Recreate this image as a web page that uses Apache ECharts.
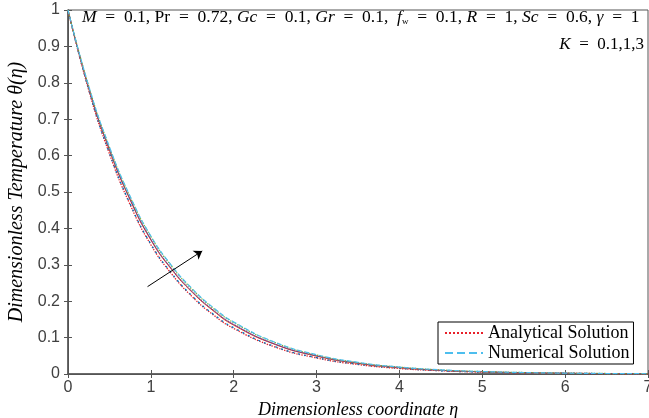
<!DOCTYPE html>
<html><head><meta charset="utf-8">
<script src="https://cdn.jsdelivr.net/npm/echarts@6/dist/echarts.min.js"></script>
<style>html,body{margin:0;padding:0;background:#fff}#c{width:649px;height:418px}</style>
</head><body><div id="c"></div>
<script>
const eta = [0,0.25,0.5,0.75,1,1.25,1.5,1.75,2,2.5,3,3.5,4,4.5,5,5.5,6,6.5,7];
const thetaK01 = [1,0.78,0.605,0.465,0.355,0.275,0.212,0.163,0.125,0.074,0.044,0.026,0.015,0.009,0.005,0.003,0.002,0.001,0.0005];
const thetaK1  = [1,0.785,0.615,0.478,0.368,0.287,0.224,0.174,0.134,0.081,0.049,0.029,0.017,0.010,0.006,0.0035,0.002,0.001,0.0006];
const thetaK3  = [1,0.79,0.622,0.486,0.377,0.296,0.232,0.181,0.141,0.086,0.052,0.031,0.019,0.011,0.0065,0.004,0.0023,0.0013,0.0007];
const numK01 = [1,0.781,0.607,0.467,0.357,0.277,0.214,0.165,0.127,0.075,0.045,0.027,0.016,0.009,0.0052,0.003,0.002,0.001,0.0005];
const numK1  = [1,0.786,0.617,0.480,0.370,0.289,0.226,0.176,0.136,0.082,0.050,0.030,0.018,0.010,0.006,0.0036,0.002,0.0011,0.0006];
const numK3  = [1,0.791,0.624,0.488,0.379,0.298,0.234,0.183,0.143,0.087,0.053,0.032,0.019,0.0115,0.0068,0.004,0.0024,0.0013,0.0007];
const arrowStart = [0.96, 0.24];
const arrowEnd = [1.62, 0.338];

const pair = a => eta.map((x,i)=>[x,a[i]]);
const serif = 'Liberation Serif';
function mk(name, data, color, type, width){
  return {name, type:'line', data:pair(data), symbol:'none', showSymbol:false, smooth:true,
    lineStyle:{color, type, width:width||1}, itemStyle:{color}, z:3};
}
const series = [
  mk('Analytical Solution', thetaK01, '#e8202a', 'dotted', 1.3),
  mk('numK01', numK01, '#0072bd', [2,4], 1.3),
  mk('aK1', thetaK1, '#d95319', 'solid', 1),
  mk('numK1', numK1, '#7e2f8e', 'solid', 1),
  mk('aK3', thetaK3, '#77ac30', 'dotted', 1.3),
  mk('Numerical Solution', numK3, '#4dbeee', 'dashed', 1.2),
  {name:'arrow', type:'line', data:[], markLine:{silent:true, symbol:['none','arrow'], symbolSize:8,
    lineStyle:{color:'#000', type:'solid', width:1}, label:{show:false},
    data:[[{coord:arrowStart},{coord:arrowEnd}]]}}
];
const axisCol = '#555';
const lblCol = '#404040';
const sp = '\u2002';
const chart = echarts.init(document.getElementById('c'));
chart.setOption({
  animation:false,
  backgroundColor:'#fff',
  grid:{left:68, right:1, top:10, bottom:44, containLabel:false, outerBoundsMode:'none',
    show:true, borderColor:axisCol, borderWidth:1, backgroundColor:'transparent'},
  legend:{data:['Analytical Solution','Numerical Solution'], orient:'vertical', left:438, top:322,
    itemWidth:38, itemHeight:10, itemGap:2, padding:[2,4,2,6], borderColor:'#000', borderWidth:1,
    itemStyle:{opacity:0},
    backgroundColor:'#fff', textStyle:{fontFamily:serif, fontSize:18, color:'#000'}},
  xAxis:[{type:'value', min:0, max:7, interval:1,
    axisLine:{lineStyle:{color:axisCol, width:1.5}}, axisTick:{inside:true, length:4, lineStyle:{color:axisCol}},
    axisLabel:{fontFamily:'Liberation Sans', fontSize:16, color:lblCol, margin:6},
    splitLine:{show:false},
    name:'Dimensionless coordinate η', nameLocation:'middle', nameGap:27,
    nameTextStyle:{fontFamily:serif, fontStyle:'italic', fontSize:18, color:'#000'}},
   {type:'value', position:'top', min:0, max:7, interval:1, gridIndex:0,
    axisLine:{show:true, lineStyle:{color:axisCol, width:1}}, axisTick:{show:true, inside:true, length:4, lineStyle:{color:axisCol}},
    axisLabel:{show:false}, splitLine:{show:false}}],
  yAxis:[{type:'value', min:0, max:1, interval:0.1,
    axisLine:{show:true, lineStyle:{color:axisCol, width:1.5}}, axisTick:{show:true, inside:true, length:4, lineStyle:{color:axisCol}},
    axisLabel:{fontFamily:'Liberation Sans', fontSize:16, color:lblCol, margin:8, formatter:v=>String(+v.toFixed(1))},
    splitLine:{show:false},
    name:'Dimensionless Temperature θ(η)', nameLocation:'middle', nameGap:38,
    nameTextStyle:{fontFamily:serif, fontStyle:'italic', fontSize:20, color:'#000'}},
   {type:'value', position:'right', min:0, max:1, interval:0.1, gridIndex:0,
    axisLine:{show:true, lineStyle:{color:axisCol, width:1}}, axisTick:{show:true, inside:true, length:4, lineStyle:{color:axisCol}},
    axisLabel:{show:false}, splitLine:{show:false}}],
  series,
  graphic:[
    {type:'text', left:82, top:8, z:10, style:{
      text:'{i|M}'+sp+'='+sp+'0.1, {n|Pr}'+sp+'='+sp+'0.72, {i|Gc}'+sp+'='+sp+'0.1, {i|Gr}'+sp+'='+sp+'0.1,  {i|f}{s|w}'+sp+'='+sp+'0.1, {i|R}'+sp+'='+sp+'1, {i|Sc}'+sp+'='+sp+'0.6, {i|γ}'+sp+'='+sp+'1',
      font:'17.5px '+serif, fill:'#000',
      rich:{i:{fontFamily:serif, fontStyle:'italic', fontSize:17.5}, n:{fontFamily:serif, fontSize:17.5}, s:{fontFamily:serif, fontSize:9, verticalAlign:'bottom', padding:[9,0,0,0]}}}},
    {type:'text', right:5, top:36, z:10, style:{
      text:'{i|K}'+sp+'='+sp+'0.1,1,3', font:'17px '+serif, fill:'#000',
      rich:{i:{fontFamily:serif, fontStyle:'italic', fontSize:17}}}}
  ]
});
</script></body></html>
